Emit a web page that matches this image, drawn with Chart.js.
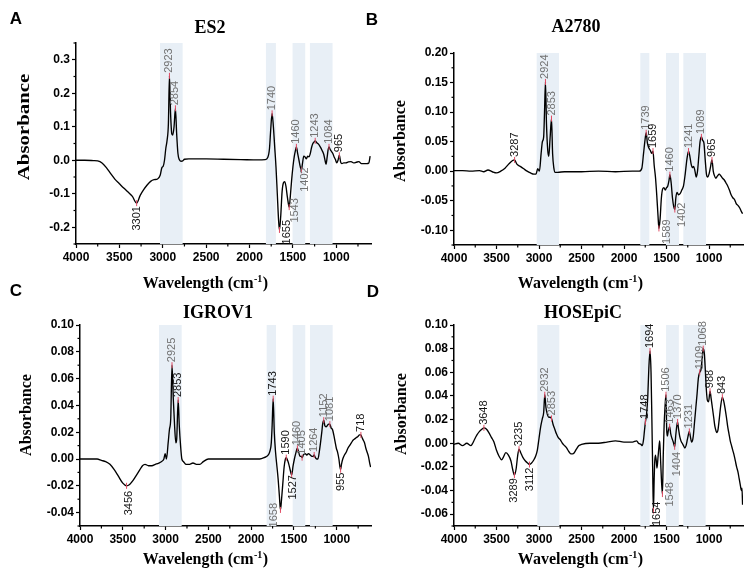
<!DOCTYPE html>
<html><head><meta charset="utf-8">
<script src="https://cdn.jsdelivr.net/npm/chart.js@4.4.1/dist/chart.umd.min.js"></script>
<style>
html,body{margin:0;padding:0;background:#fff;}
#wrap{position:relative;width:753px;height:576px;overflow:hidden;}
canvas{position:absolute;left:0;top:0;pointer-events:none;}
</style></head>
<body><div id="wrap">
<canvas id="cA" width="753" height="576"></canvas>
<canvas id="cB" width="753" height="576"></canvas>
<canvas id="cC" width="753" height="576"></canvas>
<canvas id="cD" width="753" height="576"></canvas>
</div>
<script>
// ---------- shared axis ticks ----------
const xTicks = [4000,3500,3000,2500,2000,1500,1000];
const xMinor = [3750,3250,2750,2250,1750,1250,750];

// ---------- A: ES2 ----------
const es2Wave = [
 4000,3900,3800,3750,3700,3650,3600,3550,3500,3450,
 3400,3350,3301,3260,3220,3180,3140,3100,3060,3030,
 3010,2995,2980,2965,2950,2935,2923,2910,2895,2885,
 2870,2854,2840,2825,2810,2790,2770,2750,2700,2500,
 2300,2100,1900,1820,1790,1770,1755,1740,1725,1710,
 1695,1680,1665,1655,1640,1625,1610,1595,1580,1565,
 1550,1543,1530,1515,1500,1485,1470,1460,1445,1430,
 1415,1402,1390,1375,1360,1345,1330,1315,1300,1285,
 1270,1255,1243,1225,1205,1185,1165,1145,1130,1118,
 1105,1095,1084,1070,1055,1040,1025,1010,995,980,
 965,950,935,915,890,860,830,800,770,740,
 710,680,650,625,610];
const es2Abs = [
 0.000,0.000,-0.001,-0.002,-0.008,-0.022,-0.040,-0.057,-0.070,-0.083,
 -0.095,-0.108,-0.128,-0.105,-0.088,-0.074,-0.063,-0.058,-0.056,-0.045,
 -0.022,-0.018,0.000,0.035,0.060,0.110,0.252,0.140,0.078,0.075,
 0.100,0.155,0.080,0.020,0.002,-0.003,-0.002,0.003,0.004,0.004,
 0.003,0.002,0.001,0.002,0.008,0.035,0.095,0.140,0.100,0.040,
 -0.020,-0.100,-0.180,-0.208,-0.165,-0.095,-0.068,-0.064,-0.078,-0.108,
 -0.133,-0.140,-0.108,-0.060,-0.020,0.010,0.030,0.040,0.020,0.000,
 -0.020,-0.030,-0.010,0.012,0.010,0.004,0.012,0.010,0.020,0.038,
 0.050,0.055,0.058,0.052,0.048,0.040,0.030,0.018,0.000,-0.012,
 0.010,0.030,0.040,0.032,0.026,0.020,0.010,0.002,-0.008,0.000,
 0.015,-0.005,-0.010,-0.008,-0.008,-0.005,-0.004,-0.008,-0.006,-0.004,
 -0.010,-0.010,-0.010,-0.008,0.012];
const es2PeaksUp = [2923,2854,1740,1460,1243,1084,965];
const es2PeaksDown = [3301,1655,1543,1402];
const es2PeaksDark = [3301,1655,965];
const es2Bands = [[3032,2771],[1811,1696],[1504,1358],[1304,1043]];
const es2YTicks = [-0.2,-0.1,0,0.1,0.2,0.3];
const es2YMinor = [-0.25,-0.15,-0.05,0.05,0.15,0.25,0.35];

// ---------- B: A2780 ----------
const a2780Wave = [
 4000,3900,3800,3700,3650,3600,3550,3500,3450,3400,
 3350,3310,3287,3260,3220,3180,3140,3100,3060,3035,
 3015,2995,2975,2960,2945,2935,2924,2912,2897,2885,
 2870,2853,2840,2825,2810,2780,2700,2500,2300,2100,
 1900,1820,1790,1770,1755,1739,1725,1710,1690,1675,
 1659,1645,1630,1615,1600,1589,1575,1560,1545,1530,
 1515,1500,1485,1470,1460,1445,1430,1415,1402,1390,
 1375,1360,1340,1320,1300,1280,1260,1241,1225,1210,
 1195,1180,1165,1150,1135,1120,1105,1089,1075,1060,
 1045,1030,1015,1000,985,965,950,935,920,900,
 880,860,840,820,800,780,760,740,720,700,
 680,660,640,620,605];
const a2780Abs = [
 0.001,0.001,0.000,0.001,-0.001,0.002,-0.001,-0.003,0.000,0.005,
 0.013,0.018,0.019,0.012,0.008,0.004,0.000,-0.003,-0.005,-0.005,
 0.004,0.000,0.030,0.050,0.058,0.100,0.151,0.080,0.035,0.025,
 0.055,0.089,0.030,0.005,-0.002,-0.002,-0.001,-0.001,0.000,-0.001,
 0.000,0.000,0.005,0.030,0.050,0.065,0.048,0.040,0.035,0.030,
 0.034,0.010,-0.010,-0.040,-0.075,-0.097,-0.080,-0.045,-0.030,-0.028,
 -0.032,-0.028,-0.025,-0.015,-0.006,-0.020,-0.045,-0.060,-0.065,-0.045,
 -0.036,-0.040,-0.038,-0.032,-0.025,-0.005,0.020,0.034,0.025,0.012,
 0.006,0.008,0.000,-0.010,0.000,0.025,0.050,0.058,0.052,0.048,
 0.020,-0.005,-0.010,-0.005,0.005,0.019,0.000,-0.008,-0.012,-0.008,
 -0.005,-0.008,-0.012,-0.015,-0.020,-0.025,-0.032,-0.040,-0.045,-0.048,
 -0.055,-0.058,-0.062,-0.068,-0.072];
const a2780PeaksUp = [3287,2924,2853,1739,1659,1460,1241,1089,965];
const a2780PeaksDown = [1589,1402];
const a2780PeaksDark = [3287,1659,965];
const a2780Bands = [[3027,2765],[1808,1702],[1506,1353],[1302,1035]];
const a2780YTicks = [-0.10,-0.05,0,0.05,0.10,0.15,0.20];
const a2780YMinor = [-0.125,-0.075,-0.025,0.025,0.075,0.125,0.175];

// ---------- C: IGROV1 ----------
const igrovWave = [
 4000,3900,3800,3750,3700,3650,3600,3550,3500,3456,
 3420,3380,3340,3300,3270,3240,3200,3160,3120,3080,
 3050,3020,3005,2990,2970,2955,2940,2925,2910,2895,
 2880,2870,2853,2840,2825,2810,2790,2760,2720,2680,
 2640,2600,2560,2500,2300,2100,1900,1850,1800,1780,
 1765,1755,1743,1730,1715,1700,1685,1670,1658,1645,
 1630,1615,1600,1590,1575,1560,1545,1527,1510,1495,
 1480,1460,1445,1430,1415,1405,1390,1370,1350,1330,
 1310,1290,1275,1264,1250,1235,1220,1205,1190,1175,
 1165,1152,1140,1125,1110,1095,1081,1065,1050,1035,
 1020,1005,990,975,965,955,945,930,910,890,
 870,850,830,810,790,770,750,735,718,705,
 690,675,660,645,630,615,605];
const igrovAbs = [
 0.000,0.000,0.000,-0.001,-0.002,-0.004,-0.008,-0.013,-0.018,-0.020,
 -0.019,-0.016,-0.012,-0.008,-0.005,-0.004,-0.005,-0.005,-0.004,-0.003,
 -0.002,0.000,0.004,0.000,0.012,0.022,0.030,0.070,0.045,0.025,
 0.012,0.015,0.044,0.025,0.010,0.000,-0.002,-0.004,-0.004,-0.003,
 -0.004,-0.004,-0.002,0.000,0.000,0.000,0.000,0.001,0.003,0.006,
 0.012,0.025,0.045,0.020,0.005,-0.005,-0.015,-0.028,-0.038,-0.030,
 -0.018,-0.006,0.000,0.001,-0.001,-0.004,-0.008,-0.012,-0.005,0.000,
 0.004,0.008,0.005,0.002,0.002,0.001,0.003,0.004,0.003,0.004,
 0.003,0.002,0.002,0.003,0.001,0.000,0.000,0.005,0.012,0.020,
 0.026,0.029,0.025,0.024,0.025,0.026,0.026,0.023,0.022,0.018,
 0.013,0.008,0.005,0.000,-0.005,-0.008,-0.004,0.000,0.003,0.005,
 0.008,0.010,0.012,0.014,0.015,0.016,0.017,0.018,0.018,0.016,
 0.014,0.012,0.008,0.005,0.002,-0.003,-0.006];
const igrovPeaksUp = [2925,2853,1743,1590,1460,1405,1264,1152,1081,718];
const igrovPeaksDown = [3456,1658,1527,955];
const igrovPeaksDark = [3456,2853,1743,1590,1527,955,718];
const igrovBands = [[3077,2812],[1819,1710],[1515,1368],[1313,1048]];
const igrovYTicks = [-0.04,-0.02,0,0.02,0.04,0.06,0.08,0.10];
const igrovYMinor = [-0.05,-0.03,-0.01,0.01,0.03,0.05,0.07,0.09];

// ---------- D: HOSEpiC ----------
const hoseWave = [
 4000,3950,3900,3850,3800,3780,3760,3730,3700,3670,
 3648,3620,3590,3560,3530,3500,3470,3440,3420,3390,
 3360,3330,3310,3289,3270,3250,3235,3215,3190,3160,
 3130,3112,3090,3060,3040,3020,3000,2980,2960,2945,
 2932,2918,2900,2885,2870,2853,2835,2815,2795,2775,
 2750,2725,2700,2675,2650,2625,2605,2585,2560,2530,
 2500,2400,2300,2200,2100,2000,1900,1850,1830,1800,
 1785,1770,1760,1748,1735,1720,1708,1694,1682,1672,
 1663,1654,1645,1638,1630,1620,1612,1600,1590,1580,
 1572,1560,1548,1538,1528,1518,1506,1498,1490,1480,
 1463,1450,1435,1420,1404,1392,1380,1370,1358,1345,
 1330,1315,1300,1285,1270,1255,1240,1231,1220,1205,
 1195,1185,1170,1155,1140,1125,1109,1095,1080,1068,
 1055,1042,1030,1018,1005,988,975,960,945,930,
 915,905,895,880,865,843,828,812,795,780,
 765,750,735,720,705,690,675,660,645,630,
 620,612,605];
const hoseAbs = [
 -0.001,0.000,-0.002,0.000,-0.002,0.000,0.003,0.007,0.010,0.012,
 0.013,0.012,0.009,0.005,0.001,-0.006,-0.011,-0.014,-0.012,-0.008,
 -0.010,-0.015,-0.022,-0.027,-0.022,-0.010,-0.005,-0.008,-0.012,-0.015,
 -0.017,-0.018,-0.017,-0.014,-0.011,-0.006,0.004,0.014,0.021,0.026,
 0.041,0.030,0.024,0.022,0.022,0.021,0.016,0.012,0.008,0.005,
 0.003,0.000,-0.002,-0.004,-0.007,-0.009,-0.009,-0.008,-0.005,-0.002,
 -0.001,0.000,0.000,0.001,0.002,0.001,0.001,0.002,0.000,-0.001,
 -0.002,0.003,0.010,0.018,0.024,0.040,0.063,0.078,0.060,0.020,
 -0.020,-0.057,-0.030,-0.015,-0.010,-0.015,-0.021,-0.012,-0.004,0.002,
 -0.010,-0.030,-0.043,-0.010,0.015,0.030,0.041,0.012,0.006,0.010,
 0.014,0.008,0.004,0.001,-0.003,0.006,0.014,0.018,0.012,0.006,
 0.002,0.000,-0.002,-0.004,-0.002,0.003,0.008,0.010,0.006,0.001,
 0.002,0.006,0.018,0.030,0.042,0.055,0.060,0.062,0.072,0.080,
 0.076,0.060,0.044,0.036,0.035,0.044,0.038,0.030,0.022,0.014,
 0.010,0.009,0.011,0.020,0.030,0.039,0.036,0.030,0.022,0.014,
 0.008,0.002,-0.002,-0.006,-0.010,-0.015,-0.020,-0.024,-0.030,-0.036,
 -0.040,-0.038,-0.052];
const hosePeaksUp = [3648,3235,2932,2853,1748,1694,1506,1463,1370,1231,1109,1068,988,843];
const hosePeaksDown = [3289,3112,1654,1548,1404];
const hosePeaksDark = [3648,3289,3235,3112,1748,1694,1654,988,843];
const hoseBands = [[3020,2761],[1808,1699],[1505,1355],[1303,1040]];
const hoseYTicks = [-0.06,-0.04,-0.02,0,0.02,0.04,0.06,0.08,0.10];
const hoseYMinor = [-0.07,-0.05,-0.03,-0.01,0.01,0.03,0.05,0.07,0.09];

// ---------- styling / layout ----------
const SANS = '"Liberation Sans", Arial, sans-serif';
const SERIF = '"Liberation Serif", "Times New Roman", serif';
const BAND = '#e8eff6';

const panels = [
 {id:'cA', wave:es2Wave, abs:es2Abs, up:es2PeaksUp, down:es2PeaksDown, dark:es2PeaksDark, bands:es2Bands,
  yMin:-0.25, yMax:0.35, yTicks:es2YTicks, yMinor:es2YMinor, dec:1,
  area:{l:76,r:371,t:43,b:244}, title:['ES2',210,28], letter:['A',16,19], yTitle:[25,127,1.3], xTitle:[205,282],
  nudge:{1655:[8,-13],1543:[6,-12],1402:[4,-6]}},
 {id:'cB', wave:a2780Wave, abs:a2780Abs, up:a2780PeaksUp, down:a2780PeaksDown, dark:a2780PeaksDark, bands:a2780Bands,
  yMin:-0.125, yMax:0.20, yTicks:a2780YTicks, yMinor:a2780YMinor, dec:2,
  area:{l:454,r:743,t:53,b:245}, title:['A2780',576,27], letter:['B',372,20], yTitle:[401,141,1], xTitle:[580,282],
  nudge:{1589:[8,-12],1402:[7,-10]}},
 {id:'cC', wave:igrovWave, abs:igrovAbs, up:igrovPeaksUp, down:igrovPeaksDown, dark:igrovPeaksDark, bands:igrovBands,
  yMin:-0.05, yMax:0.10, yTicks:igrovYTicks, yMinor:igrovYMinor, dec:2,
  area:{l:80,r:371,t:325,b:526}, title:['IGROV1',218,313], letter:['C',16,291], yTitle:[27,415,1], xTitle:[205,558],
  nudge:{1658:[-6,-10],1527:[1,-3],3456:[2,2]}},
 {id:'cD', wave:hoseWave, abs:hoseAbs, up:hosePeaksUp, down:hosePeaksDown, dark:hosePeaksDark, bands:hoseBands,
  yMin:-0.07, yMax:0.10, yTicks:hoseYTicks, yMinor:hoseYMinor, dec:2,
  area:{l:454,r:743,t:325,b:526}, title:['HOSEpiC',583,313], letter:['D',373,292], yTitle:[402,414,1], xTitle:[580,558],
  nudge:{1654:[4,-12],1548:[8,-15],1404:[2,2]}}
];

function txt(ctx, s, x, y, font, color, align, rot, sx){
  ctx.save(); ctx.translate(x,y); if(rot) ctx.rotate(rot); if(sx && sx!==1) ctx.scale(sx,1);
  ctx.font=font; ctx.fillStyle=color; ctx.textAlign=align||'center'; ctx.textBaseline='middle';
  ctx.fillText(s,0,0); ctx.restore();
}
function xTitle(ctx, x, y){
  const f1='bold 16px '+SERIF, f2='bold 10px '+SERIF;
  ctx.save(); ctx.fillStyle='#000'; ctx.textBaseline='alphabetic'; ctx.textAlign='left';
  ctx.font=f1; const a='Wavelength (cm', c=')'; const wa=ctx.measureText(a).width, wc=ctx.measureText(c).width;
  ctx.font=f2; const b='-1'; const wb=ctx.measureText(b).width;
  const sx=x-(wa+wb+wc)/2, base=y+5.5;
  ctx.font=f1; ctx.fillText(a,sx,base);
  ctx.font=f2; ctx.fillText(b,sx+wa+0.5,base-6);
  ctx.font=f1; ctx.fillText(c,sx+wa+wb+1,base);
  ctx.restore();
}

function makePanel(p){
  const AX_W=40, AX_H=20;
  const pts = p.wave.map((w,i)=>({x:w,y:p.abs[i]}));
  const deco = {
    id:'deco',
    beforeDatasetsDraw(chart){
      const {ctx, chartArea:ca} = chart, xs=chart.scales.x;
      ctx.save(); ctx.fillStyle=BAND;
      p.bands.forEach(([a,b])=>{
        const x1=xs.getPixelForValue(a), x2=xs.getPixelForValue(b);
        ctx.fillRect(Math.min(x1,x2), ca.top, Math.abs(x2-x1), ca.bottom-ca.top);
      });
      ctx.restore();
    },
    afterDatasetsDraw(chart){
      const {ctx} = chart, xs=chart.scales.x, ys=chart.scales.y;
      ctx.save();
      const draw=(w,side)=>{
        const v=p.abs[p.wave.indexOf(w)];
        const px=xs.getPixelForValue(w), py=ys.getPixelForValue(v);
        const [dx,dy]=(p.nudge&&p.nudge[w])||[0,0];
        ctx.strokeStyle='#e04a62'; ctx.lineWidth=1;
        ctx.beginPath(); ctx.moveTo(px,py-3); ctx.lineTo(px,py+3); ctx.stroke();
        txt(ctx, String(w), px+dx, (side==='up'?py-3:py+3)+dy, '11px '+SANS,
            p.dark.includes(w)?'#151515':'#727272', side==='up'?'left':'right', -Math.PI/2);
      };
      p.up.forEach(w=>draw(w,'up'));
      p.down.forEach(w=>draw(w,'down'));
      ctx.restore();
    },
    afterDraw(chart){
      const {ctx, chartArea:ca} = chart, xs=chart.scales.x, ys=chart.scales.y;
      ctx.save(); ctx.strokeStyle='#000'; ctx.lineWidth=1.2;
      xMinor.forEach(v=>{ const x=xs.getPixelForValue(v); ctx.beginPath(); ctx.moveTo(x,ca.bottom); ctx.lineTo(x,ca.bottom+2.5); ctx.stroke(); });
      p.yMinor.forEach(v=>{ const y=ys.getPixelForValue(v); ctx.beginPath(); ctx.moveTo(ca.left,y); ctx.lineTo(ca.left-2.5,y); ctx.stroke(); });
      ctx.restore();
      txt(ctx, p.letter[0], p.letter[1], p.letter[2], 'bold 17px '+SANS, '#000', 'center');
      txt(ctx, p.title[0], p.title[1], p.title[2], 'bold 18px '+SERIF, '#000', 'center');
      txt(ctx, 'Absorbance', p.yTitle[0], p.yTitle[1], 'bold 16px '+SERIF, '#000', 'center', -Math.PI/2, p.yTitle[2]);
      xTitle(ctx, p.xTitle[0], p.xTitle[1]);
    }
  };
  const tickFont = {family:SANS, size:12, weight:'bold'};
  return new Chart(document.getElementById(p.id), {
    type:'line',
    data:{datasets:[{data:pts, borderColor:'#000', borderWidth:1.35, pointRadius:0, fill:false,
      cubicInterpolationMode:'monotone'}]},
    options:{
      responsive:false, animation:false, events:[],
      layout:{padding:{left:p.area.l-AX_W, right:753-p.area.r, top:p.area.t, bottom:576-p.area.b-AX_H}},
      plugins:{legend:{display:false}, tooltip:{enabled:false}, title:{display:false}},
      scales:{
        x:{type:'linear', reverse:true, min:600, max:4000,
          afterFit:s=>{s.height=AX_H;},
          afterBuildTicks:s=>{s.ticks=xTicks.slice().sort((a,b)=>a-b).map(v=>({value:v}));},
          ticks:{font:tickFont, color:'#000', padding:2, maxRotation:0, autoSkip:false, callback:v=>String(v)},
          grid:{drawOnChartArea:false, drawTicks:true, tickLength:4, tickColor:'#000', tickWidth:1.2},
          border:{display:true, color:'#000', width:1.5}},
        y:{type:'linear', min:p.yMin, max:p.yMax,
          afterFit:s=>{s.width=AX_W;},
          afterBuildTicks:s=>{s.ticks=p.yTicks.map(v=>({value:v}));},
          ticks:{font:tickFont, color:'#000', padding:2, autoSkip:false, callback:v=>Number(v).toFixed(p.dec)},
          grid:{drawOnChartArea:false, drawTicks:true, tickLength:4, tickColor:'#000', tickWidth:1.2},
          border:{display:true, color:'#000', width:1.5}}
      }
    },
    plugins:[deco]
  });
}
panels.forEach(makePanel);
</script>
</body></html>
